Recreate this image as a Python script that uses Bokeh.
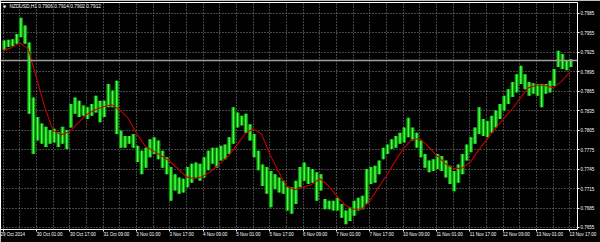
from bokeh.plotting import figure
from bokeh.models import Range1d, FixedTicker, Label, Span, PrintfTickFormatter
from bokeh.embed import file_html
from bokeh.resources import INLINE

symbol = "NZDUSD,H1"
ohlc_last = [0.7906, 0.7914, 0.7902, 0.7912]

# two-hour bars (high / low)
bar_high = [
    0.7943, 0.7944, 0.7945, 0.7953, 0.7978, 0.7966, 0.7940, 0.7855, 0.7825, 0.7815,
    0.7810, 0.7805, 0.7807, 0.7802, 0.7810, 0.7805, 0.7845, 0.7855, 0.7850, 0.7843,
    0.7840, 0.7845, 0.7858, 0.7850, 0.7850, 0.7876, 0.7866, 0.7881, 0.7804, 0.7796,
    0.7796, 0.7799, 0.7781, 0.7773, 0.7778, 0.7791, 0.7794, 0.7789, 0.7773, 0.7763,
    0.7748, 0.7737, 0.7732, 0.7730, 0.7748, 0.7753, 0.7755, 0.7753, 0.7763, 0.7773,
    0.7778, 0.7778, 0.7781, 0.7783, 0.7794, 0.7840, 0.7832, 0.7827, 0.7830, 0.7814,
    0.7799, 0.7773, 0.7752, 0.7748, 0.7742, 0.7737, 0.7732, 0.7727, 0.7717, 0.7717,
    0.7727, 0.7748, 0.7755, 0.7748, 0.7745, 0.7740, 0.7737, 0.7699, 0.7696, 0.7696,
    0.7701, 0.7691, 0.7681, 0.7686, 0.7696, 0.7701, 0.7704, 0.7745, 0.7748, 0.7750,
    0.7758, 0.7778, 0.7783, 0.7791, 0.7796, 0.7801, 0.7809, 0.7824, 0.7809, 0.7801,
    0.7789, 0.7768, 0.7758, 0.7760, 0.7768, 0.7765, 0.7758, 0.7750, 0.7742, 0.7752,
    0.7768, 0.7783, 0.7794, 0.7809, 0.7840, 0.7822, 0.7819, 0.7827, 0.7835, 0.7845,
    0.7858, 0.7868, 0.7879, 0.7891, 0.7904, 0.7891, 0.7879, 0.7877, 0.7876, 0.7876,
    0.7876, 0.7881, 0.7899, 0.7927, 0.7922, 0.7912, 0.7914,
]
bar_low = [
    0.7929, 0.7933, 0.7934, 0.7938, 0.7948, 0.7938, 0.7830, 0.7768, 0.7789, 0.7784,
    0.7779, 0.7784, 0.7786, 0.7779, 0.7784, 0.7776, 0.7809, 0.7830, 0.7825, 0.7827,
    0.7822, 0.7827, 0.7832, 0.7817, 0.7825, 0.7840, 0.7840, 0.7799, 0.7778, 0.7778,
    0.7784, 0.7778, 0.7756, 0.7737, 0.7747, 0.7763, 0.7768, 0.7760, 0.7747, 0.7737,
    0.7696, 0.7712, 0.7707, 0.7709, 0.7717, 0.7724, 0.7732, 0.7727, 0.7732, 0.7743,
    0.7753, 0.7747, 0.7758, 0.7760, 0.7768, 0.7784, 0.7809, 0.7812, 0.7801, 0.7789,
    0.7763, 0.7743, 0.7719, 0.7707, 0.7686, 0.7714, 0.7709, 0.7707, 0.7681, 0.7676,
    0.7691, 0.7717, 0.7727, 0.7722, 0.7724, 0.7696, 0.7712, 0.7683, 0.7683, 0.7681,
    0.7681, 0.7670, 0.7660, 0.7665, 0.7673, 0.7681, 0.7683, 0.7691, 0.7722, 0.7724,
    0.7737, 0.7760, 0.7768, 0.7776, 0.7778, 0.7784, 0.7786, 0.7794, 0.7789, 0.7778,
    0.7763, 0.7747, 0.7740, 0.7742, 0.7745, 0.7742, 0.7732, 0.7722, 0.7711, 0.7724,
    0.7737, 0.7758, 0.7771, 0.7784, 0.7799, 0.7796, 0.7794, 0.7801, 0.7809, 0.7822,
    0.7835, 0.7845, 0.7856, 0.7863, 0.7876, 0.7868, 0.7858, 0.7861, 0.7858, 0.7840,
    0.7861, 0.7863, 0.7873, 0.7902, 0.7899, 0.7897, 0.7902,
]
bar_step_hours = 2

# moving average, one value every 4 hours
ma_values = [
    0.7927, 0.7932, 0.7939, 0.7930, 0.7885, 0.7840, 0.7804, 0.7798, 0.7803, 0.7816,
    0.7829, 0.7836, 0.7841, 0.7844, 0.7836, 0.7823, 0.7800, 0.7781, 0.7773, 0.7765,
    0.7757, 0.7745, 0.7733, 0.7730, 0.7734, 0.7742, 0.7753, 0.7765, 0.7781, 0.7799,
    0.7807, 0.7799, 0.7768, 0.7742, 0.7719, 0.7713, 0.7717, 0.7721, 0.7730, 0.7720,
    0.7704, 0.7690, 0.7683, 0.7683, 0.7696, 0.7716, 0.7735, 0.7756, 0.7776, 0.7790,
    0.7792, 0.7780, 0.7766, 0.7754, 0.7746, 0.7746, 0.7755, 0.7773, 0.7790, 0.7806,
    0.7822, 0.7836, 0.7853, 0.7870, 0.7874, 0.7874, 0.7870, 0.7880, 0.7894,
]
ma_step_hours = 4

price_ticks = [0.7985, 0.7955, 0.7925, 0.7895, 0.7865, 0.7835, 0.7805,
               0.7775, 0.7745, 0.7715, 0.7685, 0.7655]
time_labels = ["29 Oct 2014", "30 Oct 01:00", "30 Oct 17:00", "31 Oct 09:00",
               "3 Nov 01:00", "3 Nov 17:00", "4 Nov 09:00", "5 Nov 01:00",
               "5 Nov 17:00", "6 Nov 09:00", "7 Nov 01:00", "7 Nov 17:00",
               "10 Nov 09:00", "11 Nov 01:00", "11 Nov 17:00", "12 Nov 09:00",
               "13 Nov 01:00", "13 Nov 17:00"]
label_step_hours = 16
grid_step_hours = 8

bar_hours = [bar_step_hours * j + 0.5 for j in range(len(bar_high))]
ma_hours = [ma_step_hours * k for k in range(len(ma_values))]
label_hours = [label_step_hours * k for k in range(len(time_labels))]
grid_hours = list(range(0, label_hours[-1] + 1, grid_step_hours))

FONT = "Liberation Sans"
p = figure(width=600, height=242,
           x_range=Range1d(-1.3, 275.7), y_range=Range1d(0.765192, 0.800148),
           output_backend="svg", toolbar_location=None,
           x_axis_location="below", y_axis_location="right",
           min_border_left=0, min_border_right=23, min_border_top=2, min_border_bottom=13,
           background_fill_color="black", border_fill_color="black",
           outline_line_color="white", outline_line_width=1)

# grid
p.xgrid.ticker = FixedTicker(ticks=grid_hours)
p.ygrid.ticker = FixedTicker(ticks=price_ticks)
for g in (p.xgrid, p.ygrid):
    g.grid_line_color = "#8a8a8a"
    g.grid_line_dash = "1 2"
    g.grid_line_width = 1

# bars
p.vbar(x=bar_hours, top=bar_high, bottom=bar_low, width=1.95,
       fill_color="#0d930d", line_color=None)
p.segment(x0=bar_hours, y0=bar_low, x1=bar_hours, y1=bar_high,
          line_color="#44ff44", line_width=1.5)

# moving average
p.line(ma_hours, ma_values, line_color="#c40000", line_width=1.1)

# last price line
p.add_layout(Span(location=ohlc_last[3], dimension="width",
                  line_color="#a0a0a0", line_width=1.5))

# x axis: labels start at their tick (left aligned via leading no-break spaces)
W = {"0": .556, "1": .556, "2": .556, "3": .556, "4": .556, "5": .556, "6": .556,
     "7": .556, "8": .556, "9": .556, " ": .278, ":": .278, "O": .778, "c": .5,
     "t": .278, "N": .722, "o": .556, "v": .5}

def left_aligned(s):
    w = sum(W.get(ch, .556) for ch in s)
    return "\u00a0" * int(round(w / 0.278)) + s

xa = p.xaxis[0]
xa.ticker = FixedTicker(ticks=label_hours, minor_ticks=[])
overrides = {h: left_aligned(t) for h, t in zip(label_hours, time_labels)}
overrides[label_hours[0]] = time_labels[0]   # first label sits against the left edge
xa.major_label_overrides = overrides
xa.axis_line_color = None
xa.major_tick_line_color = "white"
xa.major_tick_in = 0
xa.major_tick_out = 2
xa.minor_tick_line_color = None
xa.major_label_standoff = 0
xa.major_label_text_font = FONT
xa.major_label_text_font_size = "4.5px"
xa.major_label_text_color = "white"

ya = p.yaxis[0]
ya.ticker = FixedTicker(ticks=price_ticks, minor_ticks=[])
ya.formatter = PrintfTickFormatter(format="%.4f")
ya.axis_line_color = None
ya.major_tick_line_color = "white"
ya.major_tick_in = 0
ya.major_tick_out = 2
ya.minor_tick_line_color = None
ya.major_label_standoff = 1
ya.major_label_text_font = FONT
ya.major_label_text_font_size = "4.5px"
ya.major_label_text_color = "white"

# last price box on the price scale
p.add_layout(Label(x=275.7, y=ohlc_last[3], x_offset=1.5, text=f"{ohlc_last[3]:.4f}",
                   text_font=FONT, text_font_size="4.5px", text_color="black",
                   text_baseline="middle", text_align="left",
                   background_fill_color="white", padding=1))

# chart header
title_text = symbol + " " + " ".join(f"{v:.4f}" for v in ohlc_last)
p.add_layout(Label(x=-1.3, y=0.800148, x_offset=9, y_offset=-4, text=title_text,
                   text_font=FONT, text_font_size="4.8px", text_color="white",
                   text_baseline="middle", text_align="left"))
p.add_layout(Label(x=-1.3, y=0.800148, x_offset=2.5, y_offset=-4, text="\u25bc",
                   text_font="DejaVu Sans", text_font_size="4px", text_color="white",
                   text_baseline="middle", text_align="left"))

open("out.html", "w").write(file_html(p, INLINE))
